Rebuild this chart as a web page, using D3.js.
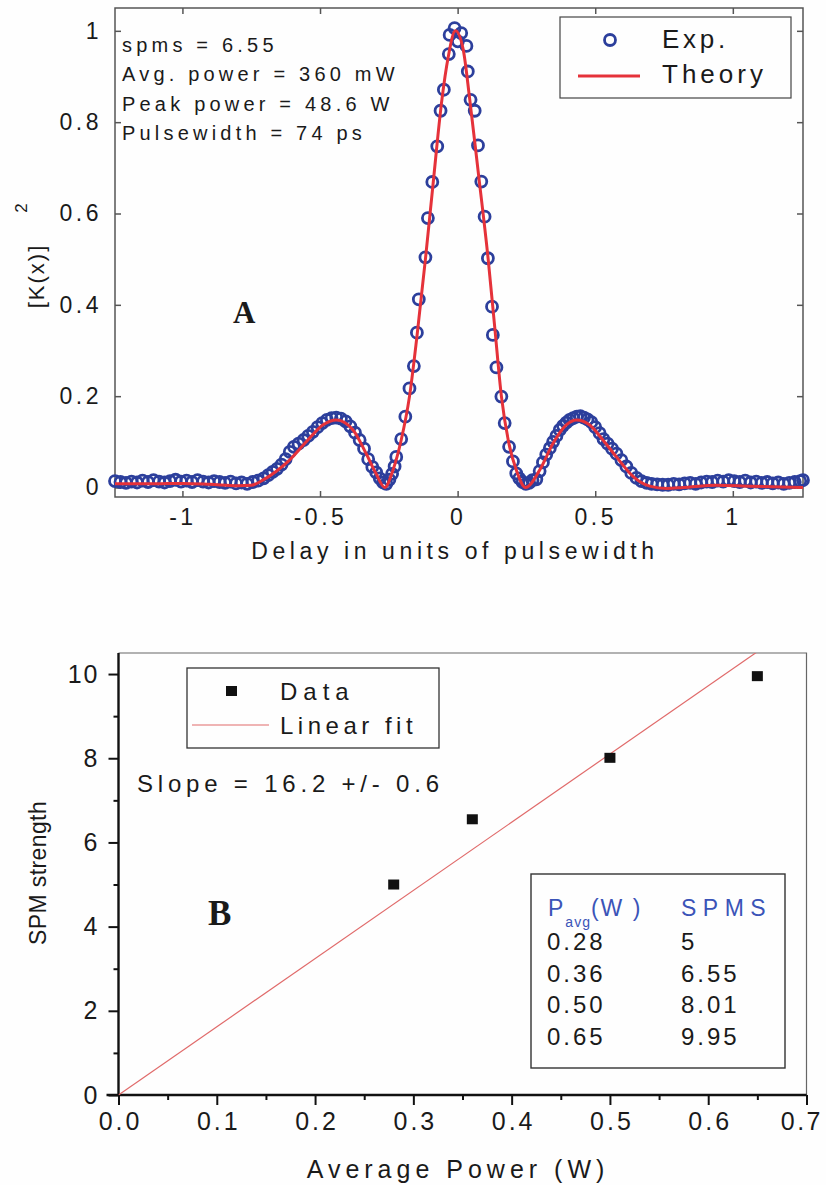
<!DOCTYPE html>
<html>
<head>
<meta charset="utf-8">
<script src="https://cdn.jsdelivr.net/npm/d3@7"></script>
<style>
  html, body { margin: 0; background: #fefefe; }
  svg { display: block; font-family: "Liberation Sans", Arial, sans-serif; }
</style>
</head>
<body>
<svg id="fig" width="826" height="1185"></svg>
<script>
// ---------- Panel A: autocorrelation trace ----------
const expDelay = [
  -1.245,-1.225,-1.205,-1.185,-1.165,-1.145,-1.125,-1.105,-1.085,-1.065,
  -1.045,-1.025,-1.005,-0.985,-0.965,-0.945,-0.925,-0.905,-0.885,-0.865,
  -0.845,-0.825,-0.805,-0.785,-0.765,-0.745,-0.725,-0.705,-0.688,-0.672,
  -0.656,-0.640,-0.625,-0.610,-0.595,-0.578,-0.560,-0.543,-0.526,-0.509,
  -0.492,-0.475,-0.458,-0.441,-0.424,-0.407,-0.390,-0.373,-0.356,-0.340,
  -0.325,-0.310,-0.296,-0.283,-0.271,-0.259,-0.248,-0.238,-0.229,-0.223,
  -0.205,-0.190,-0.175,-0.159,-0.148,-0.141,-0.117,-0.108,-0.092,-0.074,
  -0.062,-0.050,-0.032,-0.029,-0.011,0.001,0.013,0.032,0.037,0.047,
  0.062,0.074,0.086,0.098,0.110,0.125,0.128,0.141,0.159,0.171,
  0.187,0.201,0.213,0.224,0.236,0.248,0.260,0.272,0.286,0.298,
  0.310,0.322,0.335,0.347,0.359,0.371,0.383,0.395,0.407,0.420,
  0.433,0.446,0.459,0.472,0.486,0.500,0.516,0.530,0.545,0.561,
  0.577,0.595,0.613,0.631,0.650,0.668,0.687,0.705,0.725,0.745,
  0.765,0.785,0.805,0.825,0.845,0.865,0.885,0.905,0.925,0.945,
  0.965,0.985,1.005,1.025,1.045,1.065,1.085,1.105,1.125,1.145,
  1.165,1.185,1.205,1.225,1.245,1.255
];
const expK2 = [
  0.014,0.012,0.010,0.013,0.011,0.015,0.012,0.016,0.013,0.011,
  0.014,0.017,0.013,0.015,0.012,0.016,0.013,0.011,0.014,0.012,
  0.010,0.013,0.009,0.011,0.008,0.012,0.015,0.020,0.027,0.034,
  0.041,0.050,0.062,0.078,0.089,0.096,0.104,0.113,0.122,0.132,
  0.141,0.148,0.152,0.153,0.151,0.145,0.134,0.120,0.104,0.085,
  0.062,0.045,0.033,0.020,0.011,0.008,0.017,0.030,0.046,0.067,
  0.106,0.155,0.217,0.266,0.339,0.412,0.504,0.590,0.669,0.747,
  0.825,0.871,0.949,0.991,1.006,0.977,0.995,0.967,0.911,0.849,
  0.825,0.749,0.670,0.593,0.502,0.396,0.334,0.263,0.199,0.141,
  0.089,0.057,0.031,0.020,0.012,0.008,0.010,0.016,0.018,0.036,
  0.055,0.072,0.086,0.100,0.113,0.126,0.135,0.142,0.148,0.152,
  0.155,0.156,0.153,0.149,0.143,0.132,0.119,0.106,0.096,0.085,
  0.074,0.060,0.046,0.032,0.021,0.014,0.010,0.008,0.007,0.006,
  0.006,0.008,0.007,0.009,0.010,0.008,0.011,0.013,0.012,0.015,
  0.013,0.016,0.014,0.012,0.015,0.011,0.013,0.010,0.012,0.009,
  0.011,0.008,0.010,0.012,0.014,0.016
];
const theoryDelay = [
  -1.245,-1.1,-1.0,-0.9,-0.8,-0.75,-0.708,-0.66,-0.611,-0.55,
  -0.49,-0.44,-0.38,-0.333,-0.297,-0.265,-0.235,-0.205,-0.175,-0.148,
  -0.117,-0.09,-0.057,-0.035,-0.008,0.02,0.044,0.075,0.111,0.135,
  0.159,0.185,0.215,0.247,0.298,0.347,0.395,0.432,0.48,0.528,
  0.577,0.638,0.698,0.759,0.82,0.94,1.062,1.255
];
const theoryK2 = [
  0.008,0.008,0.009,0.007,0.004,0.005,0.016,0.035,0.060,0.100,
  0.137,0.148,0.126,0.075,0.031,0.000,0.038,0.104,0.199,0.330,
  0.500,0.660,0.850,0.940,1.000,0.960,0.850,0.690,0.500,0.350,
  0.200,0.100,0.035,0.000,0.038,0.097,0.137,0.148,0.137,0.104,
  0.067,0.024,0.003,-0.002,0.000,0.005,0.003,0.000
];
const xTicksA = [-1, -0.5, 0, 0.5, 1];
const yTicksA = [0, 0.2, 0.4, 0.6, 0.8, 1];
const infoLines = ["spms = 6.55", "Avg. power = 360 mW", "Peak power = 48.6 W", "Pulsewidth = 74 ps"];

// ---------- Panel B: SPM strength vs average power ----------
const avgPower = [0.28, 0.36, 0.50, 0.65];
const spmStrength = [5, 6.55, 8.01, 9.95];
const fitSlope = 16.2;
const xTicksB = [0, 0.1, 0.2, 0.3, 0.4, 0.5, 0.6, 0.7];
const xMinorB = [0.05, 0.15, 0.25, 0.35, 0.45, 0.55, 0.65];
const yTicksB = [0, 2, 4, 6, 8, 10];
const yMinorB = [1, 3, 5, 7, 9];
const tableHeader = ["P", "avg", "(W )", "SPMS"];
const tablePavg = ["0.28", "0.36", "0.50", "0.65"];
const tableSpms = ["5", "6.55", "8.01", "9.95"];

const svg = d3.select("#fig");
const blue = "#2c3f9c";
const red = "#e5323a";

// ===== Panel A =====
const A = { left: 115, right: 803, top: 8, bottom: 497 };
const xA = d3.scaleLinear().domain([-1.245, 1.255]).range([A.left, A.right]);
const yA = d3.scaleLinear().domain([-0.0208, 1.05]).range([A.bottom, A.top]);
const gA = svg.append("g");

gA.append("rect")
  .attr("x", A.left).attr("y", A.top)
  .attr("width", A.right - A.left).attr("height", A.bottom - A.top)
  .attr("fill", "none").attr("stroke", "#555").attr("stroke-width", 1.5);

const fmtA = d => String(d);
function styleAxis(g, size, ls) {
  g.select(".domain").remove();
  g.selectAll(".tick line").attr("stroke", "#555").attr("stroke-width", 1.5);
  g.selectAll(".tick text").attr("font-size", size).attr("fill", "#1a1a1a")
    .attr("letter-spacing", ls).attr("font-family", "Liberation Sans, Arial, sans-serif");
}
gA.append("g").attr("transform", `translate(0,${A.bottom})`)
  .call(d3.axisBottom(xA).tickValues(xTicksA).tickFormat(fmtA).tickSizeInner(-6).tickSizeOuter(0).tickPadding(12))
  .call(g => styleAxis(g, 23, 3.5));
gA.append("g").attr("transform", `translate(${A.left},0)`)
  .call(d3.axisLeft(yA).tickValues(yTicksA).tickFormat(fmtA).tickSizeInner(-6).tickSizeOuter(0).tickPadding(13))
  .call(g => styleAxis(g, 23, 3.5));
gA.append("g").attr("transform", `translate(0,${A.top})`)
  .call(d3.axisTop(xA).tickValues(xTicksA).tickFormat("").tickSizeInner(-6).tickSizeOuter(0))
  .call(g => styleAxis(g, 23, 0));
gA.append("g").attr("transform", `translate(${A.right},0)`)
  .call(d3.axisRight(yA).tickValues(yTicksA).tickFormat("").tickSizeInner(-6).tickSizeOuter(0))
  .call(g => styleAxis(g, 23, 0));

// experimental points
gA.append("g").selectAll("circle")
  .data(expDelay.map((d, i) => [d, expK2[i]]))
  .join("circle")
  .attr("cx", d => xA(d[0])).attr("cy", d => yA(d[1])).attr("r", 5.5)
  .attr("fill", "none").attr("stroke", blue).attr("stroke-width", 2.8);

// theory curve
const theoryLine = d3.line().x(d => xA(d[0])).y(d => yA(d[1])).curve(d3.curveMonotoneX);
gA.append("path")
  .datum(theoryDelay.map((d, i) => [d, theoryK2[i]]))
  .attr("d", theoryLine)
  .attr("fill", "none").attr("stroke", red).attr("stroke-width", 3);

// parameter annotations
gA.append("g").selectAll("text").data(infoLines).join("text")
  .attr("x", 122).attr("y", (d, i) => 52 + i * 29.3)
  .attr("font-size", 20).attr("letter-spacing", 4.2).attr("fill", "#1a1a1a")
  .text(d => d);

// legend
const legA = gA.append("g");
legA.append("rect").attr("x", 560).attr("y", 17).attr("width", 231).attr("height", 81)
  .attr("fill", "#fefefe").attr("stroke", "#444").attr("stroke-width", 1.2);
legA.append("circle").attr("cx", 610).attr("cy", 40).attr("r", 5.5)
  .attr("fill", "none").attr("stroke", blue).attr("stroke-width", 2.8);
legA.append("line").attr("x1", 578).attr("x2", 640).attr("y1", 76).attr("y2", 76)
  .attr("stroke", red).attr("stroke-width", 3);
legA.append("text").attr("x", 662).attr("y", 48).attr("font-size", 26).attr("letter-spacing", 3.7)
  .attr("fill", "#1a1a1a").text("Exp.");
legA.append("text").attr("x", 662).attr("y", 83).attr("font-size", 26).attr("letter-spacing", 4)
  .attr("fill", "#1a1a1a").text("Theory");

// panel letter
gA.append("text").attr("x", 233).attr("y", 323)
  .attr("font-family", "Liberation Serif, Times New Roman, serif").attr("font-weight", "bold")
  .attr("font-size", 31).attr("fill", "#1a1a1a").text("A");

// axis titles
gA.append("text").attr("x", 455).attr("y", 559).attr("text-anchor", "middle")
  .attr("font-size", 23).attr("letter-spacing", 4.6).attr("fill", "#1a1a1a")
  .text("Delay in units of pulsewidth");
gA.append("text").attr("transform", "translate(36,276) rotate(-90)")
  .attr("text-anchor", "middle").attr("dominant-baseline", "central")
  .attr("font-size", 22).attr("letter-spacing", 2).attr("fill", "#1a1a1a").text("[K(x)]");
gA.append("text").attr("transform", "translate(21,208) rotate(-90)")
  .attr("text-anchor", "middle").attr("dominant-baseline", "central")
  .attr("font-size", 17).attr("fill", "#1a1a1a").text("2");

// ===== Panel B =====
const B = { left: 118.5, right: 806.5, top: 653, bottom: 1095 };
const xB = d3.scaleLinear().domain([0, 0.7]).range([B.left, B.right]);
const yB = d3.scaleLinear().domain([0, 10.5]).range([B.bottom, B.top]);
const gB = svg.append("g");

// thin frame (top / right)
gB.append("path")
  .attr("d", `M${B.left},${B.top}H${B.right}V${B.bottom}`)
  .attr("fill", "none").attr("stroke", "#666").attr("stroke-width", 1.2);

gB.append("g").attr("transform", `translate(0,${B.bottom})`)
  .call(d3.axisBottom(xB).tickValues(xMinorB).tickFormat("").tickSizeInner(5).tickSizeOuter(0))
  .call(g => { g.select(".domain").remove(); g.selectAll(".tick line").attr("stroke", "#111").attr("stroke-width", 2); });
gB.append("g").attr("transform", `translate(${B.left},0)`)
  .call(d3.axisLeft(yB).tickValues(yMinorB).tickFormat("").tickSizeInner(5).tickSizeOuter(0))
  .call(g => { g.select(".domain").remove(); g.selectAll(".tick line").attr("stroke", "#111").attr("stroke-width", 2); });

const axBx = gB.append("g").attr("transform", `translate(0,${B.bottom})`)
  .call(d3.axisBottom(xB).tickValues(xTicksB).tickFormat(d3.format(".1f")).tickSizeInner(10).tickSizeOuter(0).tickPadding(7));
axBx.select(".domain").attr("stroke", "#111").attr("stroke-width", 2.4)
  .attr("d", `M${B.left - 12},0H${B.right}`);
axBx.selectAll(".tick line").attr("stroke", "#111").attr("stroke-width", 2);
axBx.selectAll(".tick text").attr("font-size", 25).attr("letter-spacing", 3).attr("fill", "#1a1a1a")
  .attr("dx", 1.5);
// keep the last label inside the page edge
axBx.selectAll(".tick text").filter(d => d === 0.7)
  .attr("text-anchor", "end").attr("letter-spacing", 2.5).attr("dx", 16);

const axBy = gB.append("g").attr("transform", `translate(${B.left},0)`)
  .call(d3.axisLeft(yB).tickValues(yTicksB).tickFormat(d3.format("d")).tickSizeInner(10).tickSizeOuter(0).tickPadding(9));
axBy.select(".domain").attr("stroke", "#111").attr("stroke-width", 2.4)
  .attr("d", `M0,${B.bottom + 0}V${B.top}`);
axBy.selectAll(".tick line").attr("stroke", "#111").attr("stroke-width", 2);
axBy.selectAll(".tick text").attr("font-size", 25).attr("letter-spacing", 2).attr("fill", "#1a1a1a");

// linear fit through the origin
gB.append("clipPath").attr("id", "clipB").append("rect")
  .attr("x", B.left).attr("y", B.top).attr("width", B.right - B.left).attr("height", B.bottom - B.top);
gB.append("line").attr("clip-path", "url(#clipB)")
  .attr("x1", xB(0)).attr("y1", yB(0))
  .attr("x2", xB(0.7)).attr("y2", yB(fitSlope * 0.7))
  .attr("stroke", "#e06a6a").attr("stroke-width", 1.2);

// data squares
gB.append("g").selectAll("rect").data(avgPower.map((d, i) => [d, spmStrength[i]])).join("rect")
  .attr("x", d => xB(d[0]) - 5.5).attr("y", d => yB(d[1]) - 5)
  .attr("width", 11).attr("height", 10).attr("fill", "#111");

// legend
const legB = gB.append("g");
legB.append("rect").attr("x", 187).attr("y", 668).attr("width", 252).attr("height", 80)
  .attr("fill", "none").attr("stroke", "#333").attr("stroke-width", 1.3);
legB.append("rect").attr("x", 226).attr("y", 686).attr("width", 11).attr("height", 10).attr("fill", "#111");
legB.append("line").attr("x1", 192).attr("x2", 269).attr("y1", 725).attr("y2", 725)
  .attr("stroke", "#e06a6a").attr("stroke-width", 1.2);
legB.append("text").attr("x", 280).attr("y", 700).attr("font-size", 24).attr("letter-spacing", 6)
  .attr("fill", "#1a1a1a").text("Data");
legB.append("text").attr("x", 280).attr("y", 734).attr("font-size", 24).attr("letter-spacing", 4.5)
  .attr("fill", "#1a1a1a").text("Linear fit");

gB.append("text").attr("x", 137).attr("y", 792).attr("font-size", 24).attr("letter-spacing", 4.8)
  .attr("fill", "#1a1a1a").text("Slope = 16.2 +/- 0.6");

gB.append("text").attr("x", 208).attr("y", 925)
  .attr("font-family", "Liberation Serif, Times New Roman, serif").attr("font-weight", "bold")
  .attr("font-size", 35).attr("fill", "#1a1a1a").text("B");

// value table
const tb = gB.append("g");
tb.append("rect").attr("x", 531).attr("y", 874).attr("width", 254).attr("height", 194)
  .attr("fill", "none").attr("stroke", "#333").attr("stroke-width", 1.4);
const hdr = tb.append("text").attr("x", 548).attr("y", 916).attr("fill", "#3b54b8")
  .attr("font-size", 23).attr("letter-spacing", 2);
hdr.append("tspan").text(tableHeader[0]);
hdr.append("tspan").attr("font-size", 14).attr("dy", 11).attr("letter-spacing", 1).text(tableHeader[1]);
hdr.append("tspan").attr("dy", -11).text(tableHeader[2]);
tb.append("text").attr("x", 681).attr("y", 916).attr("fill", "#3b54b8")
  .attr("font-size", 23).attr("letter-spacing", 6.5).text(tableHeader[3]);
tb.append("g").selectAll("text").data(tablePavg).join("text")
  .attr("x", 547).attr("y", (d, i) => 950 + i * 31.7)
  .attr("font-size", 24).attr("letter-spacing", 3).attr("fill", "#1a1a1a").text(d => d);
tb.append("g").selectAll("text").data(tableSpms).join("text")
  .attr("x", 681).attr("y", (d, i) => 950 + i * 31.7)
  .attr("font-size", 24).attr("letter-spacing", 3).attr("fill", "#1a1a1a").text(d => d);

// axis titles
gB.append("text").attr("x", 458).attr("y", 1178).attr("text-anchor", "middle")
  .attr("font-size", 25).attr("letter-spacing", 5).attr("fill", "#1a1a1a").text("Average Power (W)");
gB.append("text").attr("transform", "translate(38,873) rotate(-90)")
  .attr("text-anchor", "middle").attr("dominant-baseline", "central")
  .attr("font-size", 23).attr("letter-spacing", 0.4).attr("fill", "#1a1a1a").text("SPM strength");
</script>
</body>
</html>
